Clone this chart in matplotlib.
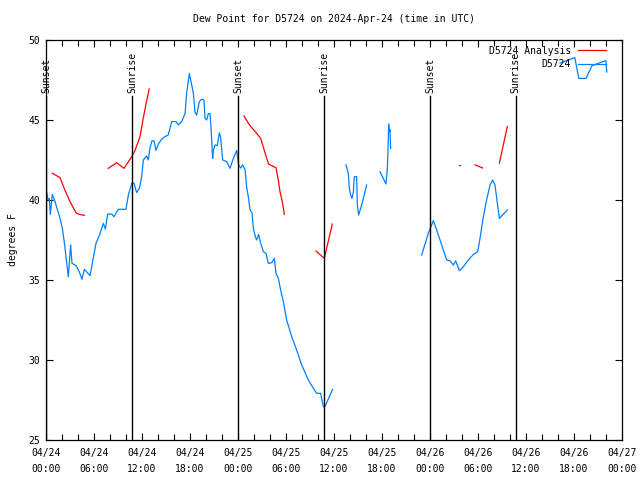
import numpy as np
import pandas as pd
import matplotlib
matplotlib.use("Agg")
import matplotlib.pyplot as plt
import matplotlib.dates as mdates

plt.rcParams['font.family'] = ['DejaVu Sans Mono']
plt.rcParams['font.size'] = 7

START = pd.Timestamp("2024-04-24 00:00")

# observed dew point (hours since 04/24 00:00 UTC, degrees F), split where the record has gaps
obs_a_hours = [0.08, 0.25, 0.42, 0.54, 0.79, 1.13, 1.42, 1.75, 2.04, 2.25, 2.5, 2.79, 3.08, 3.25,
               3.75, 4.17, 4.5, 4.79, 5.5, 5.83, 6.25, 6.67, 7.17, 7.42, 7.71, 8.21, 8.5, 9.04,
               10.0, 10.29, 10.75, 11.0, 11.33, 11.67, 11.96, 12.17, 12.58, 12.79, 12.99, 13.25,
               13.5, 13.75, 14.04, 14.46, 14.87, 15.29, 15.71, 16.25, 16.54, 16.96, 17.38, 17.58,
               17.92, 18.21, 18.42, 18.62, 18.83, 19.17, 19.46, 19.75, 19.87, 20.08, 20.29, 20.5,
               20.62, 20.83, 20.92, 21.13, 21.42, 21.67, 21.83, 22.08, 22.58, 23.0, 23.42, 23.83,
               24.08, 24.33, 24.58, 24.88, 25.08, 25.29, 25.5, 25.75, 25.92, 26.17, 26.33, 26.58,
               26.83, 27.17, 27.5, 27.79, 28.21, 28.54, 28.75, 29.04, 29.33, 29.67, 30.08, 30.71,
               31.33, 31.96, 32.79, 33.42, 33.83, 34.33, 34.67, 34.88, 35.83]
obs_a_dewpt = [40.5, 40.0, 40.1, 39.1, 40.35, 39.9, 39.4, 38.86, 38.23, 37.5, 36.46, 35.2, 37.2, 36.04,
               35.9, 35.5, 35.04, 35.67, 35.27, 36.15, 37.29, 37.8, 38.54, 38.18, 39.12, 39.12, 38.96, 39.42,
               39.42, 40.3, 41.08, 41.04, 40.46, 40.73, 41.46, 42.5, 42.75, 42.5, 43.23, 43.7,
               43.7, 43.1, 43.5, 43.8, 43.96, 44.07, 44.9, 44.9, 44.7, 44.9, 45.4, 46.67,
               47.9, 47.2, 46.67, 45.5, 45.3, 46.15, 46.3, 46.25, 45.1, 45.0, 45.4, 45.4,
               44.6, 42.6, 43.1, 43.44, 43.4, 44.2, 43.9, 42.5, 42.4, 41.98, 42.6, 43.1,
               42.2, 42.0, 42.2, 41.9, 40.8, 40.2, 39.4, 39.2, 38.23, 37.7, 37.5, 37.85,
               37.3, 36.77, 36.67, 36.04, 36.08, 36.35, 35.42, 35.1, 34.38, 33.65, 32.5, 31.46,
               30.63, 29.69, 28.75, 28.23, 27.92, 27.92, 27.08, 27.1, 28.17]
obs_b_hours = [37.5, 37.79, 37.92, 38.08, 38.25, 38.42, 38.54, 38.83, 38.92, 39.08, 39.33, 39.67, 40.08]
obs_b_dewpt = [42.19, 41.67, 40.73, 40.3, 40.1, 40.5, 41.46, 41.46, 39.69, 39.06, 39.48, 40.1, 40.94]
obs_c_hours = [41.75, 42.5, 42.67, 42.79, 42.83, 42.92, 43.0, 43.08]
obs_c_dewpt = [41.77, 41.0, 41.98, 43.75, 44.75, 44.27, 44.4, 43.23]
obs_d_hours = [46.96, 47.79, 48.42, 48.83, 49.46, 50.08, 50.5, 50.92, 51.21, 51.67, 52.17,
               52.79, 53.42, 53.96, 54.25, 54.67, 55.08, 55.5, 55.83, 56.12, 56.67, 57.67]
obs_d_dewpt = [36.56, 37.92, 38.71, 38.13, 37.19, 36.25, 36.2, 35.94, 36.2, 35.58, 35.83,
               36.25, 36.6, 36.77, 37.6, 38.96, 40.0, 40.94, 41.25, 40.94, 38.85, 39.38]
obs_e_hours = [64.25, 65.0, 66.1, 66.6, 67.5, 68.25, 69.9, 70.0, 70.1]
obs_e_dewpt = [48.56, 48.7, 48.9, 47.6, 47.6, 48.4, 48.7, 48.7, 48.0]

# analysis dew point
ana_a_hours = [0.79, 1.75, 2.375, 3.0, 3.75, 4.17, 4.79]
ana_a_dewpt = [41.67, 41.4, 40.6, 39.9, 39.2, 39.1, 39.04]
ana_b_hours = [7.79, 8.83, 9.75, 10.71, 11.13, 11.75, 12.17, 12.5, 12.9]
ana_b_dewpt = [41.98, 42.33, 41.98, 42.7, 43.1, 43.96, 45.15, 46.0, 46.94]
ana_c_hours = [24.75, 25.29, 25.92, 26.33, 26.83, 27.17, 27.58, 27.83, 28.21, 28.75, 29.04, 29.25, 29.58, 29.79]
ana_c_dewpt = [45.25, 44.8, 44.4, 44.17, 43.85, 43.3, 42.6, 42.25, 42.15, 42.02, 41.25, 40.52, 39.8, 39.1]
ana_d_hours = [33.75, 34.79, 35.08, 35.79]
ana_d_dewpt = [36.81, 36.35, 36.98, 38.5]
ana_e_hours = [51.6, 51.7]
ana_e_dewpt = [42.19, 42.19]
ana_f_hours = [53.62, 54.58]
ana_f_dewpt = [42.2, 42.0]
ana_g_hours = [56.67, 57.67]
ana_g_dewpt = [42.3, 44.6]

# sunrise / sunset
sun_hours = [0.05, 10.75, 24.0, 34.75, 48.0, 58.7]
sun_labels = ["Sunset", "Sunrise", "Sunset", "Sunrise", "Sunset", "Sunrise"]

RED = "#ff0000"
BLUE = "#0080ff"


def to_time(hours):
    return START + pd.to_timedelta(np.array(hours), unit="h")


fig = plt.figure(figsize=(6.4, 4.8), dpi=100)
ax = fig.add_axes([46 / 640, 40 / 480, 576 / 640, 400 / 480])

analysis = [(ana_a_hours, ana_a_dewpt), (ana_b_hours, ana_b_dewpt), (ana_c_hours, ana_c_dewpt),
            (ana_d_hours, ana_d_dewpt), (ana_e_hours, ana_e_dewpt), (ana_f_hours, ana_f_dewpt),
            (ana_g_hours, ana_g_dewpt)]
observed = [(obs_a_hours, obs_a_dewpt), (obs_b_hours, obs_b_dewpt), (obs_c_hours, obs_c_dewpt),
            (obs_d_hours, obs_d_dewpt), (obs_e_hours, obs_e_dewpt)]

for i, (h, v) in enumerate(analysis):
    ax.plot(to_time(h), v, color=RED, lw=0.9, label="D5724 Analysis" if i == 0 else None)
for i, (h, v) in enumerate(observed):
    ax.plot(to_time(h), v, color=BLUE, lw=0.9, label="D5724" if i == 0 else None)

# sunrise / sunset markers
for h, lab in zip(sun_hours, sun_labels):
    t = to_time([h])[0]
    ax.plot([t, t], [25, 46.5], color="black", lw=1.0)
    ax.text(t, 46.7, lab, rotation=90, ha="center", va="bottom")

ax.set_xlim(START, START + pd.Timedelta(hours=72))
ax.set_ylim(25, 50)
ax.set_yticks([25, 30, 35, 40, 45, 50])
ax.xaxis.set_major_locator(mdates.HourLocator(byhour=range(0, 24, 6)))
ax.xaxis.set_minor_locator(mdates.HourLocator(byhour=range(0, 24, 2)))
ax.xaxis.set_major_formatter(mdates.DateFormatter("%m/%d\n%H:%M"))
ax.tick_params(which="both", direction="in", top=True, right=True, width=0.8, labelsize=7)
ax.tick_params(which="major", length=5, pad=6)
ax.tick_params(which="minor", length=4)
ax.tick_params(axis="y", pad=4)
for lbl in ax.get_xticklabels():
    lbl.set_linespacing(1.75)
for s in ax.spines.values():
    s.set_linewidth(0.9)

ax.set_ylabel("degrees F", labelpad=8)
ax.set_title("Dew Point for D5724 on 2024-Apr-24 (time in UTC)", fontsize=7, pad=13)

leg = ax.legend(loc="upper right", bbox_to_anchor=((610 - 46) / 576, 0.995), frameon=False,
                markerfirst=False, handlelength=2.9, fontsize=7, borderaxespad=0,
                labelspacing=0.35, handletextpad=0.7)

fig.savefig("out.png", dpi=100)
